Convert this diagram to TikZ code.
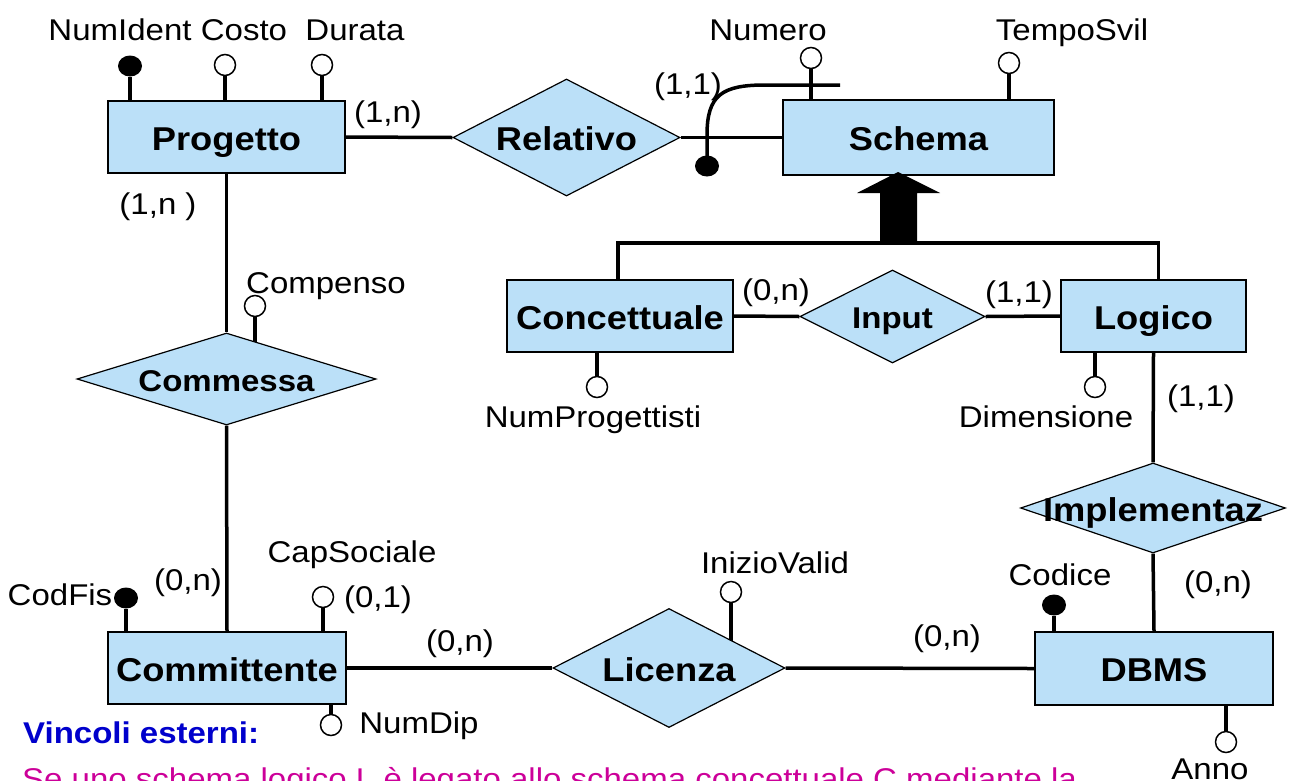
\documentclass[tikz,border=0pt]{standalone}
\usepackage{fontspec}
\setmainfont[FakeStretch=1.1]{Liberation Sans}
\usetikzlibrary{shapes.geometric}
\definecolor{erfill}{RGB}{187,224,248}
\definecolor{vincblue}{RGB}{0,0,204}
\definecolor{vincmag}{RGB}{204,0,153}
\pgfdeclarelayer{background}
\pgfsetlayers{background,main}
\begin{document}
\begin{tikzpicture}[x=1pt,y=-1pt,
  ent/.style={rectangle, draw, line width=1.6pt, fill=erfill, inner sep=0pt, text height=26pt, text depth=0pt, font=\fontsize{33}{36}\selectfont\bfseries},
  rel/.style={diamond, draw, line width=1.2pt, fill=erfill, inner sep=0pt, text height=26pt, text depth=0pt, font=\fontsize{33}{36}\selectfont\bfseries},
  relsmall/.style={rel, text height=24.5pt, font=\fontsize{30}{36}\selectfont\bfseries},
  conn/.style={line width=3.5pt},
  attr/.style={circle, draw, line width=1.5pt, fill=white, inner sep=0pt, minimum size=21pt},
  keyattr/.style={ellipse, fill=black, inner sep=0pt, minimum width=24pt, minimum height=21pt},
  lbl/.style={font=\fontsize{30}{36}\selectfont, inner sep=0pt, anchor=base}]
\useasboundingbox (0,0) rectangle (1292,780);

% entities
\node[ent, minimum width=237pt, minimum height=72pt] (prog) at (226.5,137) {Progetto};
\node[ent, minimum width=271pt, minimum height=75pt] (schema) at (918.5,137.5) {Schema};
\node[ent, minimum width=226pt, minimum height=72pt] (conc) at (620,316) {Concettuale};
\node[ent, minimum width=185pt, minimum height=72pt] (logico) at (1153.5,316) {Logico};
\node[ent, minimum width=238pt, minimum height=72pt] (comm) at (227,668) {Committente};
\node[ent, minimum width=238pt, minimum height=73pt] (dbms) at (1154,668.5) {DBMS};

% relationships
\node[rel, minimum width=227pt, minimum height=117pt] (relat) at (566.5,137.5) {\makebox[0pt]{Relativo}};
\node[relsmall, minimum width=185pt, minimum height=93pt] (input) at (892.5,316.5) {\makebox[0pt]{Input}};
\node[relsmall, minimum width=299pt, minimum height=92pt] (commessa) at (226.5,379) {\makebox[0pt]{Commessa}};
\node[rel, minimum width=265pt, minimum height=90pt] (impl) at (1153,508) {\makebox[0pt]{Implementaz}};
\node[rel, minimum width=232pt, minimum height=119pt] (lic) at (669,668) {\makebox[0pt]{Licenza}};

% attributes
\node[keyattr] (ni) at (130,66) {};
\node[attr] (co) at (225,65) {};
\node[attr] (du) at (322,65) {};
\node[attr] (nu) at (811,58) {};
\node[attr] (ts) at (1009,63) {};
\node[keyattr] (eid) at (707,166) {};
\coordinate (eidend) at (840,85);
\node[attr] (np) at (597,387) {};
\node[attr] (di) at (1095,387) {};
\node[attr] (cp) at (255,306) {};
\node[attr] (iv) at (731,592) {};
\node[keyattr] (cd) at (1054,605) {};
\node[attr] (an) at (1226,742) {};
\node[keyattr] (cf) at (126,598) {};
\node[attr] (cs) at (323,597) {};
\node[attr] (nd) at (331,725) {};

% labels
\node[lbl] (niL) at (120,40) {NumIdent};
\node[lbl] (coL) at (244,40) {Costo};
\node[lbl] (duL) at (355,40) {Durata};
\node[lbl] (nuL) at (768,40) {Numero};
\node[lbl] (tsL) at (1072,40) {TempoSvil};
\node[lbl] (c1) at (388,122) {(1,n)};
\node[lbl] (c2) at (158,214) {(1,n )};
\node[lbl] (c3) at (688,94) {(1,1)};
\node[lbl] (cpL) at (326,293) {Compenso};
\node[lbl] (c4) at (776,300) {(0,n)};
\node[lbl] (c5) at (1019,302) {(1,1)};
\node[lbl] (npL) at (593,427) {NumProgettisti};
\node[lbl] (diL) at (1046,427) {Dimensione};
\node[lbl] (c6) at (1201,406) {(1,1)};
\node[lbl] (csL) at (352,562) {CapSociale};
\node[lbl] (c7) at (188,590) {(0,n)};
\node[lbl] (cfL) at (60,605) {CodFis};
\node[lbl] (c8) at (378,607) {(0,1)};
\node[lbl] (c9) at (460,651) {(0,n)};
\node[lbl] (ndL) at (419,733) {NumDip};
\node[lbl] (ivL) at (775,573) {InizioValid};
\node[lbl] (cdL) at (1060,585) {Codice};
\node[lbl] (c10) at (1218,592) {(0,n)};
\node[lbl] (c11) at (947,646) {(0,n)};
\node[lbl] (anL) at (1210,779) {Anno};
\node[lbl, anchor=base west, text=vincblue, font=\fontsize{30}{36}\selectfont\bfseries] (vinc) at (23,743) {Vincoli esterni:};
\node[lbl, anchor=base west, text=vincmag] (vtxt) at (22,789) {Se uno schema logico L è legato allo schema concettuale C mediante la};

% generalization arrow
\coordinate (gen) at (898,243);
\fill (898,172) -- (940,193) -- (917,193) -- (917,243) -- (880,243) -- (880,193) -- (857,193) -- cycle;

\begin{pgfonlayer}{background}
  \draw[conn] (prog.east) -- (relat.west);
  \draw[conn] (relat.east) -- (schema.west);
  \draw[conn] (prog.south) -- (commessa.north);
  \draw[conn] (commessa.south) -- (comm.north);
  \draw[conn] (comm.east) -- (lic.west);
  \draw[conn] (lic.east) -- (dbms.west);
  \draw[conn] (dbms.north) -- (impl.south);
  \draw[conn] (impl.north) -- (logico.south);
  \draw[conn] (conc.east) -- (input.west);
  \draw[conn] (input.east) -- (logico.west);
  \draw[conn] ([xshift=-2pt]conc.north) |- (gen) -| ([xshift=5pt]logico.north);
  % attribute stems
  \draw[conn] (ni) -- (ni |- prog.north);
  \draw[conn] (co) -- (co |- prog.north);
  \draw[conn] (du) -- (du |- prog.north);
  \draw[conn] (nu) -- (nu |- schema.north);
  \draw[conn] (ts) -- (ts |- schema.north);
  \draw[conn] (np) -- (np |- conc.south);
  \draw[conn] (di) -- (di |- logico.south);
  \draw[conn] (cp) -- (cp |- commessa.center);
  \draw[conn] (iv) -- (iv |- lic.center);
  \draw[conn] (cd) -- (cd |- dbms.north);
  \draw[conn] (an) -- (an |- dbms.south);
  \draw[conn] (cf) -- (cf |- comm.north);
  \draw[conn] (cs) -- (cs |- comm.north);
  \draw[conn] (nd) -- (nd |- comm.south);
  % external identifier
  \draw[conn] (eid.center) -- (707,135) .. controls (707,95) and (722,85) .. (765,85) -- (eidend);
\end{pgfonlayer}
\end{tikzpicture}
\end{document}
